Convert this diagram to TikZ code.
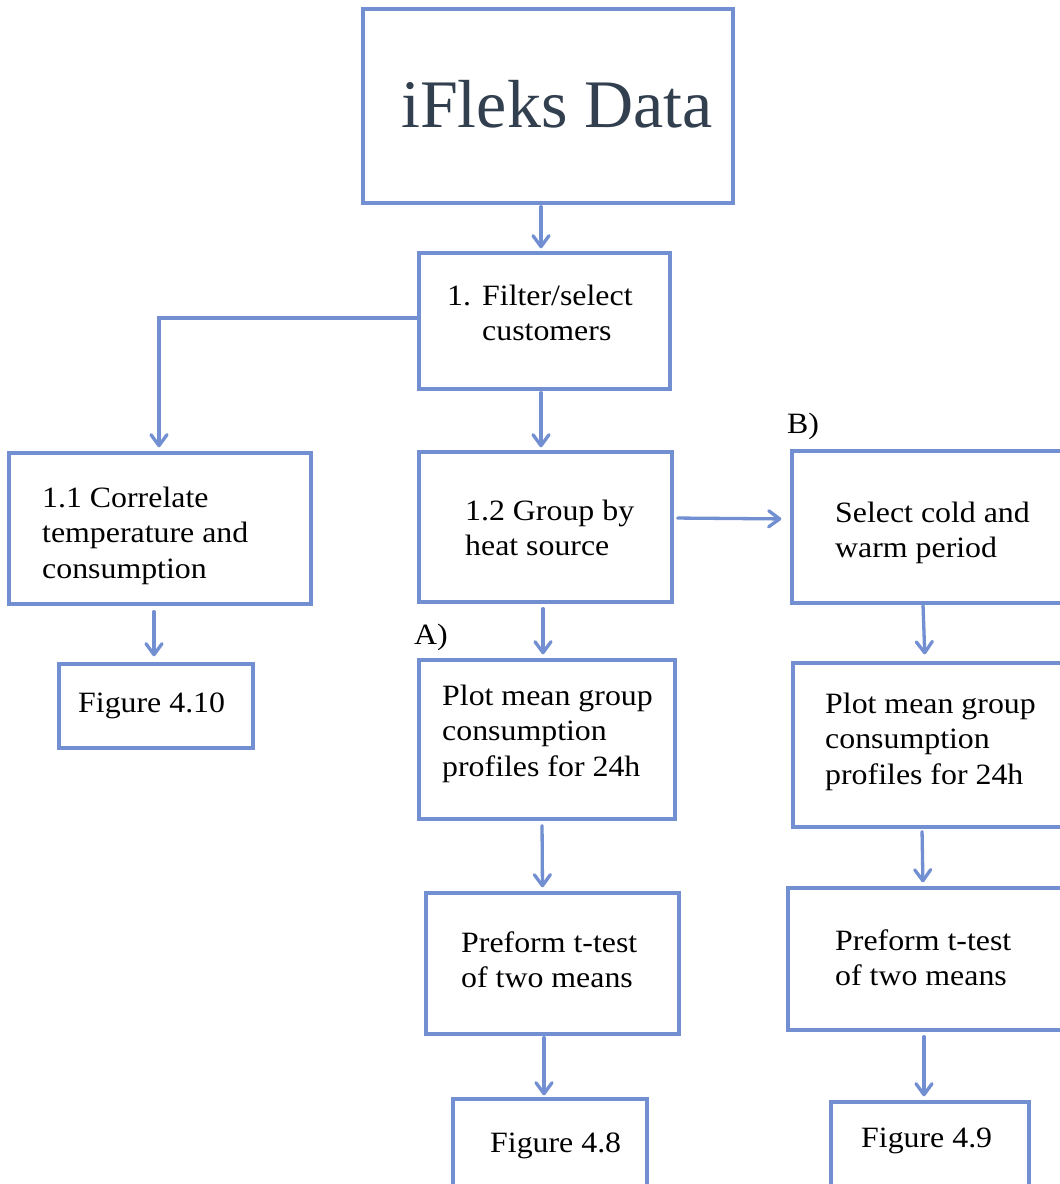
\documentclass[tikz,border=0pt]{standalone}
\usepackage{fontspec}
\setmainfont{Liberation Serif}
\newfontfamily\bodyfont[FakeStretch=1.08]{Liberation Serif}
\usetikzlibrary{arrows.meta}
\definecolor{lineblue}{RGB}{114,143,210}
\definecolor{titlecol}{RGB}{50,63,79}
\newcommand{\txtlines}[1]{\begin{tabular}[t]{@{}l@{}}#1\end{tabular}}
\begin{document}
\begin{tikzpicture}[x=1pt,y=-1pt,
  box/.style={draw=lineblue,line width=3.3pt,rectangle,inner sep=0pt,fill=none},
  txt/.style={anchor=base west,inner sep=0pt,font=\bodyfont\fontsize{29.5}{35.5}\selectfont,text=black},
  arr/.style={draw=lineblue,line width=3.3pt,line cap=round,-{Straight Barb[length=11pt,width=16pt,round]}}]
\useasboundingbox (0,0) rectangle (1060,1184);
\fill[white] (0,0) rectangle (1060,1184);
% boxes
\node[box,minimum width=370pt,minimum height=194pt] (top) at (548,106) {};
\node[box,minimum width=251pt,minimum height=136pt] (filter) at (544.5,321) {};
\node[box,minimum width=302pt,minimum height=151pt] (corr) at (160,528.5) {};
\node[box,minimum width=194pt,minimum height=84pt] (fig410) at (156,706) {};
\node[box,minimum width=253pt,minimum height=150pt] (group) at (545.5,527) {};
\node[box,minimum width=274pt,minimum height=152pt] (select) at (929,527) {};
\node[box,minimum width=256pt,minimum height=159pt] (plotA) at (547,739.5) {};
\node[box,minimum width=273pt,minimum height=164pt] (plotB) at (929.5,745) {};
\node[box,minimum width=253pt,minimum height=141pt] (ttestA) at (552.5,963.5) {};
\node[box,minimum width=278pt,minimum height=142pt] (ttestB) at (927,959) {};
\node[box,minimum width=194pt,minimum height=91pt] (fig48) at (550,1144.5) {};
\node[box,minimum width=198pt,minimum height=88pt] (fig49) at (930,1146) {};
% texts
\node[anchor=base west,inner sep=0pt,font=\fontsize{68}{70}\selectfont,text=titlecol] (toptxt) at (401,127) {iFleks Data};
\node[txt] (filtertxt) at (447,305) {\txtlines{\makebox[35pt][l]{1.}Filter/select\\\hspace*{35pt}customers}};
\node[txt] (corrtxt) at (42,507) {\txtlines{1.1 Correlate\\temperature and\\consumption}};
\node[txt] (fig410txt) at (78,712) {Figure 4.10};
\node[txt] (grouptxt) at (465,520) {\txtlines{1.2 Group by\\heat source}};
\node[txt] (selecttxt) at (835,522) {\txtlines{Select cold and\\warm period}};
\node[txt] (plotAtxt) at (442,705) {\txtlines{Plot mean group\\consumption\\profiles for 24h}};
\node[txt] (plotBtxt) at (825,713) {\txtlines{Plot mean group\\consumption\\profiles for 24h}};
\node[txt] (ttestAtxt) at (461,952) {\txtlines{Preform t-test\\of two means}};
\node[txt] (ttestBtxt) at (835,950) {\txtlines{Preform t-test\\of two means}};
\node[txt] (fig48txt) at (490,1152) {Figure 4.8};
\node[txt] (fig49txt) at (861,1147) {Figure 4.9};
\node[txt] (labelB) at (787,433) {B)};
\node[txt] (labelA) at (414,644) {A)};
% connectors
\draw[arr,shorten <=2pt,shorten >=3pt] ([xshift=-7pt]top.south) -- ([xshift=-3.5pt]filter.north);
\draw[arr,shorten <=2pt,shorten >=3pt] ([xshift=-3.5pt]filter.south) -- ([xshift=-4.5pt]group.north);
\draw[arr,shorten >=4pt] ([yshift=3pt]filter.west) -| ([xshift=-1pt]corr.north);
\draw[arr,shorten <=6pt,shorten >=6pt] ([xshift=-6pt]corr.south) -- ([xshift=-2pt]fig410.north);
\draw[arr,shorten <=4pt,shorten >=9pt] ([yshift=9pt]group.east) -- ([yshift=8pt]select.west);
\draw[arr,shorten <=5pt,shorten >=4pt] ([xshift=-2.5pt]group.south) -- ([xshift=-4pt]plotA.north);
\draw[arr,shorten <=1pt,shorten >=7pt] ([xshift=-6pt]select.south) -- ([xshift=-4.5pt]plotB.north);
\draw[arr,shorten <=5pt,shorten >=4pt] ([xshift=-5pt]plotA.south) -- ([xshift=-10pt]ttestA.north);
\draw[arr,shorten <=3pt,shorten >=4pt] ([xshift=-7.5pt]plotB.south) -- ([xshift=-4pt]ttestB.north);
\draw[arr,shorten <=2pt,shorten >=2pt] ([xshift=-8.5pt]ttestA.south) -- ([xshift=-6pt]fig48.north);
\draw[arr,shorten <=5pt,shorten >=4pt] ([xshift=-3pt]ttestB.south) -- ([xshift=-6pt]fig49.north);
\end{tikzpicture}
\end{document}
